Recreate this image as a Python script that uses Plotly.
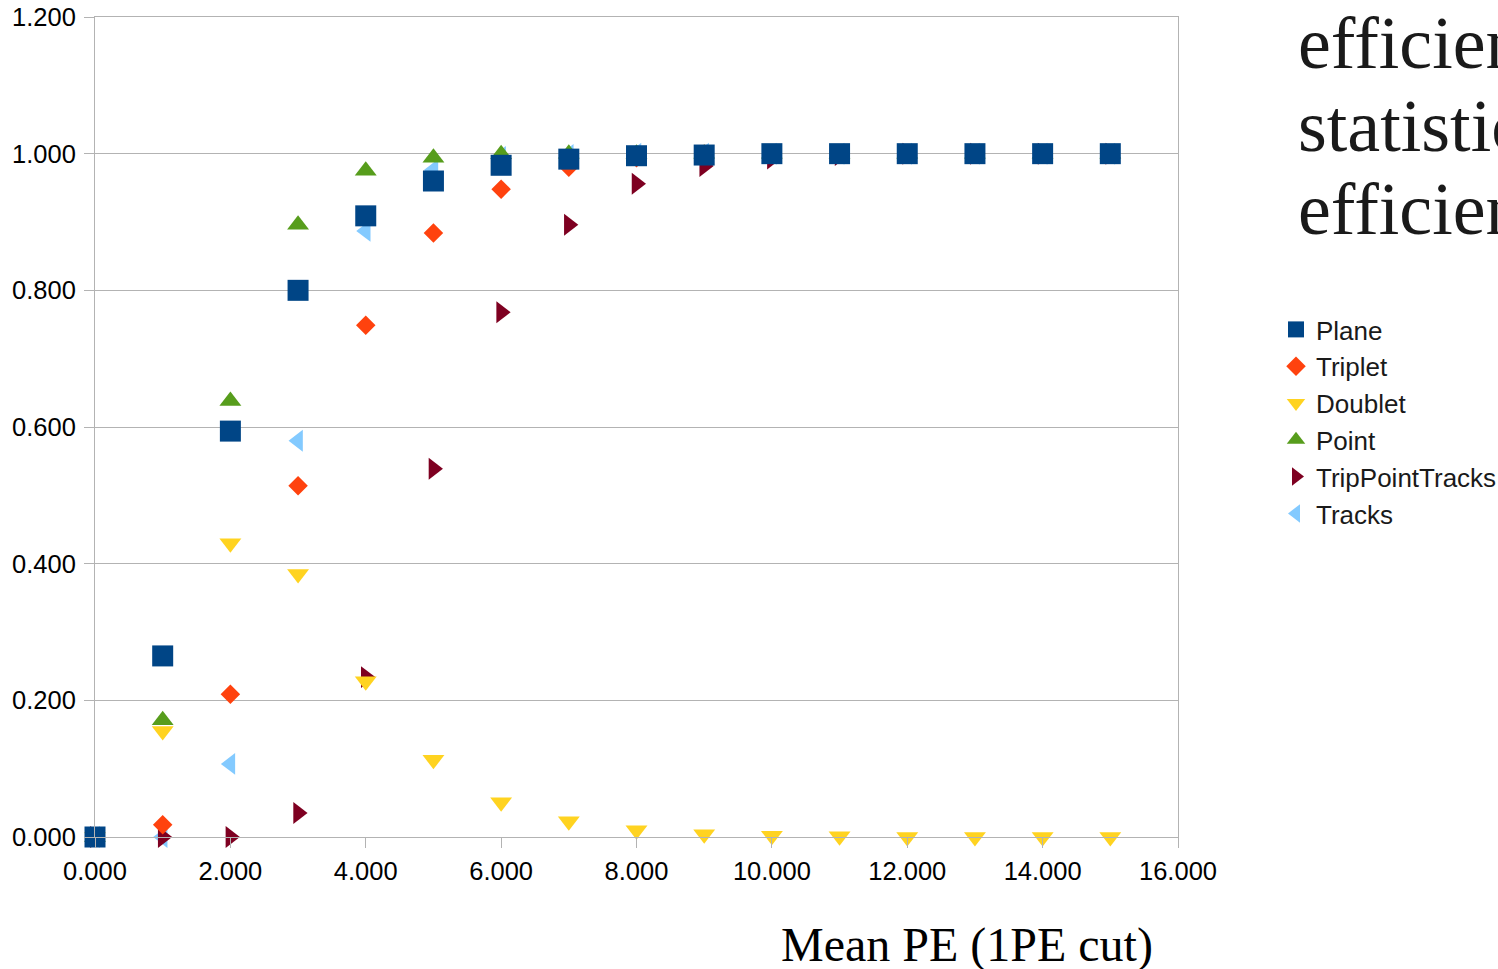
import plotly.graph_objects as go

mean_pe = [0, 1, 2, 3, 4, 5, 6, 7, 8, 9, 10, 11, 12, 13, 14, 15]

plane = [0.000, 0.265, 0.594, 0.800, 0.909, 0.960, 0.983, 0.992, 0.997, 0.998,
         1.000, 1.000, 1.000, 1.000, 1.000, 1.000]
triplet = [0.000, 0.018, 0.209, 0.514, 0.749, 0.884, 0.948, 0.980, 0.994, 0.999,
           1.000, 1.000, 1.000, 1.000, 1.000, 1.000]
doublet = [0.000, 0.155, 0.430, 0.385, 0.228, 0.113, 0.051, 0.023, 0.010, 0.004,
           0.002, 0.001, 0.000, 0.000, 0.000, 0.000]
point = [0.000, 0.171, 0.638, 0.896, 0.975, 0.994, 0.999, 1.000, 1.000, 1.000,
         1.000, 1.000, 1.000, 1.000, 1.000, 1.000]
trip_point_tracks = [0.000, 0.000, 0.000, 0.035, 0.234, 0.539, 0.768, 0.896, 0.956, 0.982,
                     0.993, 0.998, 1.000, 1.000, 1.000, 1.000]
tracks = [0.000, 0.000, 0.107, 0.580, 0.887, 0.976, 0.995, 0.998, 1.000, 1.000,
          1.000, 1.000, 1.000, 1.000, 1.000, 1.000]

series_names = ["Plane", "Triplet", "Doublet", "Point", "TripPointTracks", "Tracks"]
series_values = [plane, triplet, doublet, point, trip_point_tracks, tracks]
series_colors = ["#004586", "#ff420e", "#ffd320", "#579d1c", "#7e0021", "#83caff"]
series_symbols = ["square", "diamond", "triangle-down", "triangle-up", "triangle-right", "triangle-left"]
series_sizes = [21, 15, 19, 19, 19, 19]

x_tick_vals = [0, 2, 4, 6, 8, 10, 12, 14, 16]
y_tick_vals = [0, 0.2, 0.4, 0.6, 0.8, 1.0, 1.2]

title_lines = ["efficiency", "statistical", "efficiency"]
x_title = "Mean PE (1PE cut)"

fig = go.Figure()
# draw in reverse so Plane is on top
for name, vals, col, sym, sz in reversed(list(zip(series_names, series_values, series_colors,
                                                   series_symbols, series_sizes))):
    fig.add_trace(go.Scatter(
        x=mean_pe, y=vals, name=name, mode="markers", cliponaxis=False,
        marker=dict(color=col, symbol=sym, size=sz, line=dict(width=0)),
    ))

W, H = 1498, 969
L, R, T, B = 95, 320, 17, 132
pw = W - L - R
ph = H - T - B

def px_x(p):
    return (p - L) / pw

def px_y(p):
    return (H - B - p) / ph

axis_common = dict(
    showline=True, mirror=True, linecolor="#b3b3b3", linewidth=1,
    ticks="outside", ticklen=10, tickcolor="#b3b3b3", tickwidth=1,
    tickfont=dict(family="Liberation Sans", size=25.5, color="#000000"),
    tickformat=".3f", zeroline=False,
)

fig.update_layout(
    width=W, height=H,
    margin=dict(l=L, r=R, t=T, b=B, pad=0, autoexpand=False),
    plot_bgcolor="white", paper_bgcolor="white",
    xaxis=dict(range=[0, 16], tickvals=x_tick_vals, showgrid=False, ticklabelstandoff=1, **axis_common),
    yaxis=dict(range=[0, 1.2], tickvals=y_tick_vals, showgrid=True, gridcolor="#b3b3b3",
               gridwidth=1, ticklabelstandoff=3, **axis_common),
    showlegend=True,
    legend=dict(
        x=px_x(1276), xanchor="left", y=px_y(306), yanchor="top",
        traceorder="reversed",
        font=dict(family="Liberation Sans", size=26, color="#1a1a1a"),
        bgcolor="rgba(0,0,0,0)", borderwidth=0,
        itemclick=False, itemdoubleclick=False,
    ),
)

# title lines (clipped by the page edge like the reference)
for i, line in enumerate(title_lines):
    fig.add_annotation(
        text=line, xref="paper", yref="paper",
        x=px_x(1296), xanchor="left",
        y=px_y(43 + 83 * i), yanchor="middle",
        showarrow=False,
        font=dict(family="Liberation Serif", size=74, color="#1a1a1a"),
    )

fig.add_annotation(
    text=x_title, xref="paper", yref="paper",
    x=px_x(967), xanchor="center", y=px_y(945), yanchor="middle",
    showarrow=False,
    font=dict(family="Liberation Serif", size=48, color="#000000"),
)

fig.write_html("out.html")
